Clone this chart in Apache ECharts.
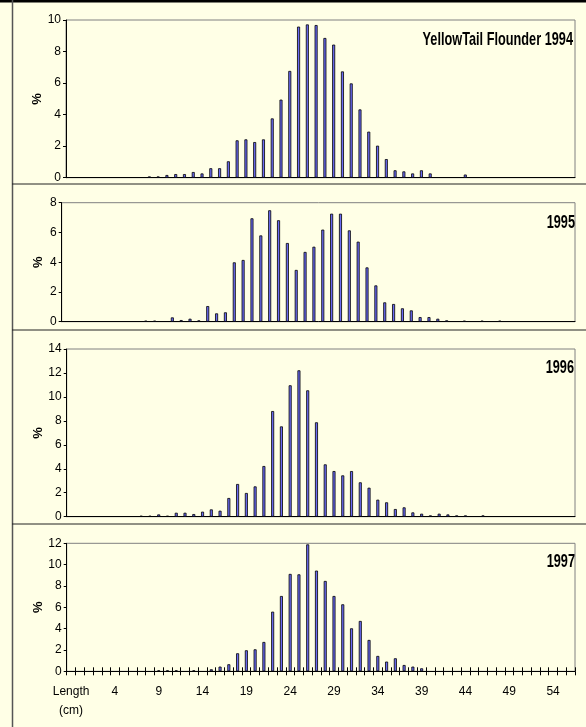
<!DOCTYPE html>
<html>
<head>
<meta charset="utf-8">
<script src="https://cdn.jsdelivr.net/npm/echarts@6/dist/echarts.min.js"></script>
<style>
    body { margin: 0; background: #ffffe6; }
    #chart { width: 586px; height: 727px; }
</style>
</head>
<body>
<div id="chart"></div>
<script>
// lengths in cm, the first category is the header cell of the sheet
var lengths = [0, 1, 2, 3, 4, 5, 6, 7, 8, 9, 10, 11, 12, 13, 14, 15, 16, 17, 18, 19,
    20, 21, 22, 23, 24, 25, 26, 27, 28, 29, 30, 31, 32, 33, 34, 35, 36, 37, 38, 39,
    40, 41, 42, 43, 44, 45, 46, 47, 48, 49, 50, 51, 52, 53, 54, 55, 56];
var headerLabel = 'Length\n(cm)';

// % at length, same order as lengths (null = no fish)
var pct1994 = [null, null, null, null, null, null, null, null, 0.08, 0.08,
    0.17, 0.23, 0.23, 0.36, 0.27, 0.6, 0.6, 1.04, 2.37, 2.43,
    2.26, 2.43, 3.76, 4.95, 6.77, 9.58, 9.72, 9.68, 8.86, 8.44,
    6.74, 5.98, 4.33, 2.92, 2.03, 1.18, 0.47, 0.4, 0.27, 0.47,
    0.27, null, null, null, 0.2, null, null, null, null, null,
    null, null, null, null, null, null, null];
var pct1995 = [null, null, null, null, null, null, null, null, 0.07, 0.07,
    null, 0.29, 0.11, 0.2, 0.09, 1.05, 0.56, 0.63, 3.99, 4.15,
    6.95, 5.8, 7.49, 6.82, 5.29, 3.48, 4.69, 5.04, 6.19, 7.26,
    7.26, 6.14, 5.38, 3.65, 2.44, 1.3, 1.19, 0.9, 0.76, 0.31,
    0.31, 0.2, 0.09, null, 0.07, null, 0.07, null, 0.07, null,
    null, null, null, null, null, null, null];
var pct1996 = [null, null, null, null, null, null, null, 0.08, 0.08, 0.19,
    0.08, 0.33, 0.33, 0.22, 0.42, 0.61, 0.5, 1.56, 2.73, 1.98,
    2.53, 4.23, 8.82, 7.54, 10.97, 12.22, 10.55, 7.88, 4.37, 3.81,
    3.45, 3.81, 2.87, 2.42, 1.42, 1.2, 0.64, 0.78, 0.36, 0.25,
    0.11, 0.25, 0.19, 0.11, 0.11, null, 0.11, null, null, null,
    null, null, null, null, null, null, null];
var pct1997 = [null, null, null, null, null, null, null, null, null, 0.09,
    0.09, 0.09, null, 0.09, null, 0.19, 0.44, 0.66, 1.69, 1.97,
    2.06, 2.75, 5.59, 7.06, 9.13, 9.09, 11.9, 9.44, 8.47, 7.06,
    6.28, 4.03, 4.72, 2.94, 1.44, 0.91, 1.22, 0.59, 0.44, 0.28,
    null, null, null, null, null, null, null, null, null, null,
    null, null, null, null, null, null, null];

var panelTitles = ['YellowTail Flounder 1994', '1995', '1996', '1997'];
var yMax = [10, 8, 14, 12];

var categories = [headerLabel].concat(lengths.map(String));
var allData = [pct1994, pct1995, pct1996, pct1997];

var myChart = echarts.init(document.getElementById('chart'));

var fontName = 'Liberation Sans, Arial, sans-serif';
var grids = [
    {left: 66, top: 20, width: 509, height: 157.7},
    {left: 61.7, top: 202.7, width: 513.3, height: 119},
    {left: 66.7, top: 349, width: 508.3, height: 167.7},
    {left: 66.7, top: 543.3, width: 508.3, height: 128}
];
var nameGaps = [22, 17, 22, 22];
var titleSpots = [[573, 40], [575, 222.7], [574, 367.3], [575, 561.7]];

var xAxes = [], yAxes = [], series = [], graphics = [];

for (var i = 0; i < 4; i++) {
    var last = (i == 3);
    grids[i].show = true;
    grids[i].borderColor = '#808080';
    grids[i].borderWidth = 1;
    grids[i].backgroundColor = 'transparent';

    xAxes.push({
        type: 'category',
        gridIndex: i,
        position: 'bottom',
        data: categories,
        axisLine: {lineStyle: {color: '#000', width: 1}},
        axisTick: {show: last, interval: 0, length: 4, lineStyle: {color: '#000'}},
        axisLabel: {
            show: last,
            interval: 4,
            margin: 11,
            color: '#000',
            fontFamily: fontName,
            fontSize: 12,
            lineHeight: 19
        },
        splitLine: {show: false}
    });

    yAxes.push({
        type: 'value',
        gridIndex: i,
        min: 0,
        max: yMax[i],
        interval: 2,
        name: '%',
        nameLocation: 'middle',
        nameGap: nameGaps[i],
        nameMoveOverlap: false,
        nameTextStyle: {color: '#000', fontFamily: fontName, fontSize: 13, fontWeight: 'bold'},
        axisLine: {show: true, lineStyle: {color: '#000', width: 1}},
        axisTick: {show: true, length: 3, lineStyle: {color: '#000'}},
        axisLabel: {margin: 5, color: '#000', fontFamily: fontName, fontSize: 12},
        splitLine: {show: false}
    });

    series.push({
        type: 'bar',
        xAxisIndex: i,
        yAxisIndex: i,
        data: [null].concat(allData[i]),
        barWidth: 3,
        itemStyle: {color: '#6b6bf5', borderColor: '#000', borderWidth: 0.8},
        silent: true
    });

    graphics.push({
        type: 'text',
        x: titleSpots[i][0],
        y: titleSpots[i][1],
        scaleX: 0.67,
        style: {
            text: panelTitles[i],
            font: 'bold 19px ' + fontName,
            fill: '#000',
            textAlign: 'right',
            textVerticalAlign: 'middle'
        }
    });
}

// upward half of the crossing ticks on the last panel
xAxes.push({
    type: 'category',
    gridIndex: 3,
    position: 'bottom',
    data: categories,
    axisLine: {show: false},
    axisTick: {show: true, inside: true, interval: 0, length: 4, lineStyle: {color: '#000'}},
    axisLabel: {show: false},
    splitLine: {show: false}
});

// frame lines of the sheet
graphics.push({type: 'rect', shape: {x: 0, y: 0, width: 586, height: 2.5}, style: {fill: '#000'}});
graphics.push({type: 'line', shape: {x1: 12.5, y1: 0, x2: 12.5, y2: 727}, style: {stroke: '#555', lineWidth: 1.5}});
[184, 330, 524].forEach(function (y) {
    graphics.push({type: 'line', shape: {x1: 12, y1: y, x2: 586, y2: y}, style: {stroke: '#222', lineWidth: 1}});
});

var option = {
    backgroundColor: '#ffffe6',
    animation: false,
    grid: grids,
    xAxis: xAxes,
    yAxis: yAxes,
    series: series,
    graphic: graphics
};

myChart.setOption(option);
</script>
</body>
</html>
